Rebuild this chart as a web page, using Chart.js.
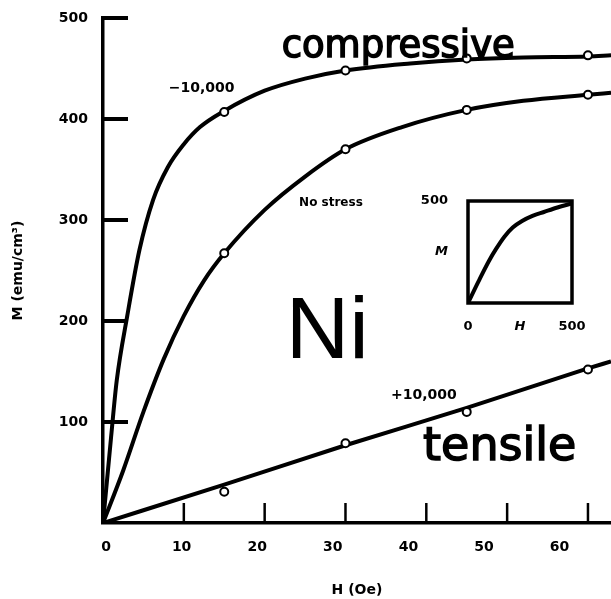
<!DOCTYPE html>
<html><head><meta charset="utf-8">
<script src="https://cdn.jsdelivr.net/npm/chart.js@4/dist/chart.umd.min.js"></script>
<style>
html,body{margin:0;padding:0;background:#fff;}
#wrap{position:relative;width:611px;height:599px;background:#fff;}
#main{position:absolute;left:0;top:0;}
#inset{position:absolute;left:420px;top:190px;}
</style></head><body>
<div id="wrap"><canvas id="main" width="611" height="599"></canvas><canvas id="inset" width="180" height="150"></canvas></div>
<script>
// ---- data (H in Oe, M in emu/cm^3) ----
const compH = [0, 1, 1.7, 3, 4.5, 6.2, 8, 10, 12, 15, 20, 25, 30, 38, 45, 52, 60, 62.85];
const compM = [0, 85, 141, 205, 270, 320, 352, 375, 392, 408, 428, 440, 448, 455, 459, 461, 462, 463];
const noStressH = [0, 2.5, 5, 7.5, 10, 12.5, 15, 20, 25, 30, 37, 45, 52, 60, 62.85];
const noStressM = [0, 52, 110, 162, 205, 240, 267, 310, 343, 370, 392, 409, 418, 424, 426];
const tensH = [0, 15, 30, 45, 60, 62.85];
const tensM = [0, 38, 77, 114, 153, 160];
const markH = [15, 30, 45, 60];
const compMarkM = [407, 448, 460, 463];
const noStressMarkM = [267, 370, 409, 424];
const tensMarkM = [31, 79, 110, 152];
const xTicks = [0, 10, 20, 30, 40, 50, 60];
const yTicks = [100, 200, 300, 400, 500];
const insetH = [0, 50, 100, 135, 175, 215, 260, 310, 365, 430, 500];
const insetM = [0, 105, 205, 265, 325, 370, 402, 427, 446, 468, 488];
const insetXTicks = [0, 250, 500];
const insetXLabels = ['0', 'H', '500'];
const insetYTicks = [250, 500];
const insetYLabels = ['M', '500'];

const pts = (xs, ys) => xs.map((x, i) => ({x: x, y: ys[i]}));
const BOLD = 'DejaVu Sans';
const noPad = s => { s.paddingLeft = 0; s.paddingRight = 0; s.paddingTop = 0; s.paddingBottom = 0; };

const lineDs = (xs, ys) => ({type: 'line', data: pts(xs, ys), borderColor: '#000', borderWidth: 4,
  pointRadius: 0, cubicInterpolationMode: 'monotone', fill: false, order: 2, xAxisID: 'x', yAxisID: 'y'});
const markDs = (xs, ys) => ({type: 'line', data: pts(xs, ys), showLine: false, pointRadius: 4,
  pointBorderWidth: 2, pointBorderColor: '#000', pointBackgroundColor: '#fff', order: 0, xAxisID: 'x', yAxisID: 'y'});

const annotations = [
  {text: '\u221210,000', h: 12.2, m: 430.7, font: 'bold 14px ' + BOLD, align: 'center', base: 'middle'},
  {text: 'No stress', h: 28.2, m: 316.8, font: 'bold 12px ' + BOLD, align: 'center', base: 'middle'},
  {text: '+10,000', h: 39.7, m: 126.7, font: 'bold 14px ' + BOLD, align: 'center', base: 'middle'},
  {text: 'compressive', h: 22.1, m: 461.4, font: '37px ' + BOLD, align: 'left', base: 'alphabetic', stroke: 1.5},
  {text: 'tensile', h: 39.6, m: 62.4, font: '46px ' + BOLD, align: 'left', base: 'alphabetic', stroke: 1.5},
  {text: 'Ni', h: 22.6, m: 163.4, font: '88px Liberation Sans', align: 'left', base: 'alphabetic', stroke: 0}
];

const mainPlugin = {
  id: 'mainDeco',
  afterDatasetsDraw(chart) {
    const ctx = chart.ctx, xs = chart.scales.x, ys = chart.scales.y, a = chart.chartArea;
    ctx.save();
    ctx.strokeStyle = '#000';
    ctx.lineCap = 'butt';
    ctx.lineWidth = 4;
    yTicks.forEach(v => {
      const py = ys.getPixelForValue(v);
      ctx.beginPath(); ctx.moveTo(a.left, py); ctx.lineTo(a.left + 25, py); ctx.stroke();
    });
    ctx.lineWidth = 2.5;
    xTicks.filter(v => v > 0).forEach(v => {
      const px = xs.getPixelForValue(v);
      ctx.beginPath(); ctx.moveTo(px, a.bottom); ctx.lineTo(px, a.bottom - 20); ctx.stroke();
    });
    ctx.fillStyle = '#000';
    annotations.forEach(t => {
      ctx.font = t.font; ctx.textAlign = t.align; ctx.textBaseline = t.base;
      const px = xs.getPixelForValue(t.h), py = ys.getPixelForValue(t.m);
      ctx.fillText(t.text, px, py);
      if (t.stroke) { ctx.lineWidth = t.stroke; ctx.strokeText(t.text, px, py); }
    });
    ctx.restore();
  }
};

new Chart(document.getElementById('main'), {
  type: 'line',
  data: {datasets: [
    markDs(markH, compMarkM), markDs(markH, noStressMarkM), markDs(markH, tensMarkM),
    lineDs(compH, compM), lineDs(noStressH, noStressM), lineDs(tensH, tensM)
  ]},
  options: {
    responsive: false, animation: false, devicePixelRatio: 1,
    layout: {autoPadding: false, padding: {top: 18, right: 0, left: 0, bottom: 0}},
    plugins: {legend: {display: false}, tooltip: {enabled: false}},
    scales: {
      x: {type: 'linear', display: false, min: 0, max: 62.85},
      xl: {type: 'linear', position: 'bottom', min: -0.4, max: 66.8,
        afterBuildTicks: s => { s.ticks = xTicks.map(v => ({value: v})); },
        afterFit: s => { s.height = 76; noPad(s); },
        grid: {display: false, drawTicks: false},
        border: {display: true, color: '#000', width: 3.5},
        ticks: {color: '#000', font: {family: BOLD, weight: 'bold', size: 14}, padding: 16, maxRotation: 0, autoSkip: false},
        title: {display: true, text: 'H (Oe)', color: '#000', font: {family: BOLD, weight: 'bold', size: 14}, padding: {top: 0, bottom: 0}}
      },
      y: {type: 'linear', position: 'left', min: 0, max: 500,
        afterBuildTicks: s => { s.ticks = yTicks.map(v => ({value: v})); },
        afterFit: s => { s.width = 103; noPad(s); },
        grid: {display: false, drawTicks: false},
        border: {display: true, color: '#000', width: 3.5},
        ticks: {color: '#000', font: {family: BOLD, weight: 'bold', size: 14}, padding: 15},
        title: {display: true, text: 'M (emu/cm\u00B3)', color: '#000', font: {family: BOLD, weight: 'bold', size: 14}, padding: {top: 10, bottom: 0}}
      }
    }
  },
  plugins: [mainPlugin]
});

const boxPlugin = {
  id: 'box',
  afterDraw(chart) {
    const ctx = chart.ctx, a = chart.chartArea;
    ctx.save(); ctx.strokeStyle = '#000'; ctx.lineWidth = 3.5;
    ctx.strokeRect(a.left, a.top, a.right - a.left, a.bottom - a.top);
    ctx.restore();
  }
};
const tickFont = ctx => ({family: BOLD, weight: 'bold', size: 13, style: (ctx.tick && (ctx.tick.value === 250)) ? 'italic' : 'normal'});

new Chart(document.getElementById('inset'), {
  type: 'line',
  data: {datasets: [{data: pts(insetH, insetM), borderColor: '#000', borderWidth: 4, pointRadius: 0, cubicInterpolationMode: 'monotone', fill: false}]},
  options: {
    responsive: false, animation: false, devicePixelRatio: 1,
    layout: {autoPadding: false, padding: {top: 11, right: 28, left: 0, bottom: 0}},
    plugins: {legend: {display: false}, tooltip: {enabled: false}},
    scales: {
      x: {type: 'linear', min: 0, max: 500,
        afterBuildTicks: s => { s.ticks = insetXTicks.map(v => ({value: v})); },
        afterFit: s => { s.height = 37; noPad(s); },
        grid: {display: false, drawTicks: false}, border: {display: false},
        ticks: {color: '#000', font: tickFont, padding: 16, maxRotation: 0, autoSkip: false,
          callback: (v, i) => insetXLabels[i]}
      },
      y: {type: 'linear', min: 0, max: 500,
        afterBuildTicks: s => { s.ticks = insetYTicks.map(v => ({value: v})); },
        afterFit: s => { s.width = 48; noPad(s); },
        grid: {display: false, drawTicks: false}, border: {display: false},
        ticks: {color: '#000', font: tickFont, padding: 20, autoSkip: false,
          callback: (v, i) => insetYLabels[i]}
      }
    }
  },
  plugins: [boxPlugin]
});
</script>
</body></html>
